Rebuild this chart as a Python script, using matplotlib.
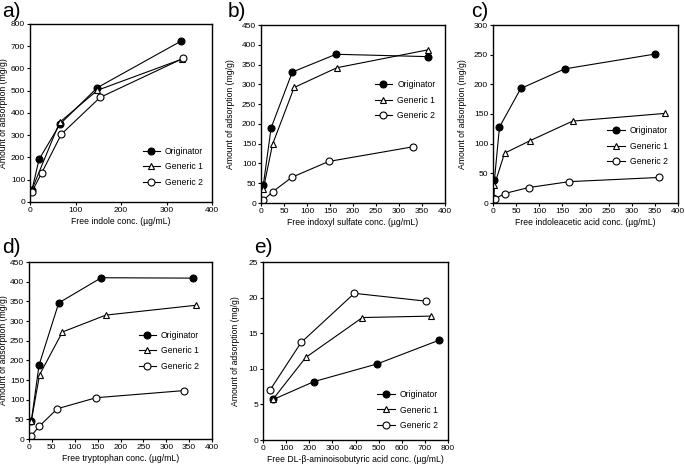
import numpy as np
import matplotlib
matplotlib.use("Agg")
import matplotlib.pyplot as plt

plt.rcParams['font.family'] = ['Liberation Sans', 'DejaVu Sans']

labels = ['Originator', 'Generic 1', 'Generic 2']

# a) indole
a_x = [[4, 20, 66, 148, 331], [4, 65, 148, 335], [4, 26, 69, 154, 337]]
a_y = [[52, 192, 350, 514, 722], [55, 358, 502, 643], [45, 132, 305, 470, 646]]

# b) indoxyl sulfate
b_x = [[5, 22, 68, 163, 363], [5, 25, 72, 165, 362], [5, 25, 67, 147, 330]]
b_y = [[45, 190, 331, 376, 370], [35, 148, 292, 342, 387], [7, 28, 65, 105, 142]]

# c) indoleacetic acid
c_x = [[1, 3, 14, 60, 155, 350], [1, 3, 25, 80, 172, 372], [0, 5, 25, 77, 165, 358]]
c_y = [[8, 38, 128, 193, 226, 251], [5, 30, 84, 105, 138, 151], [2, 7, 16, 26, 36, 43]]

# d) tryptophan
d_x = [[5, 22, 65, 158, 358], [5, 23, 73, 168, 365], [5, 22, 62, 147, 338]]
d_y = [[45, 188, 346, 410, 409], [45, 163, 272, 315, 340], [8, 32, 77, 105, 123]]

# e) DL-beta-aminoisobutyric acid
e_x = [[45, 220, 495, 760], [45, 185, 430, 725], [30, 165, 395, 705]]
e_y = [[5.7, 8.2, 10.7, 14.0], [5.8, 11.6, 17.2, 17.4], [7.0, 13.7, 20.6, 19.5]]

# letter, x data, y data, axes box (px), xlim/step, ylim/step, xlabel, legend anchor, letter pos (px), ylabel x
panels = [
    ('a)', a_x, a_y, (30, 212, 24, 202), (0, 400, 100), (0, 800, 100), 'Free indole conc. (\u00b5g/mL)', (0.60, 0.33), (2, 21), -0.12),
    ('b)', b_x, b_y, (261, 445, 25, 203), (0, 400, 50), (0, 450, 50), 'Free indoxyl sulfate conc. (\u00b5g/mL)', (0.60, 0.71), (228, 21), -0.14),
    ('c)', c_x, c_y, (493, 678, 25, 203), (0, 400, 50), (0, 300, 50), 'Free indoleacetic acid conc. (\u00b5g/mL)', (0.60, 0.45), (471, 21), -0.14),
    ('d)', d_x, d_y, (29, 212, 262, 439), (0, 400, 50), (0, 450, 50), 'Free tryptophan conc. (\u00b5g/mL)', (0.58, 0.63), (2, 257), -0.115),
    ('e)', e_x, e_y, (263, 448, 262, 440), (0, 800, 100), (0, 25, 5), 'Free DL-\u03b2-aminoisobutyric acid conc. (\u00b5g/mL)', (0.60, 0.30), (254, 257), -0.125),
]

markers = [dict(marker='o', mfc='black', mec='black'),
           dict(marker='^', mfc='white', mec='black'),
           dict(marker='o', mfc='white', mec='black')]

W, H = 685, 465
fig = plt.figure(figsize=(6.85, 4.65), dpi=100)

for letter, xs, ys, box, xl, yl, xlabel, legpos, lpos, ylx in panels:
    l, r, t, b = box
    ax = fig.add_axes([l / W, 1 - b / H, (r - l) / W, (b - t) / H])
    for i in range(3):
        ax.plot(xs[i], ys[i], color='black', lw=0.8, ms=5, mew=0.8,
                label=labels[i], **markers[i])
    ax.set_xlim(xl[0], xl[1])
    ax.set_ylim(yl[0], yl[1])
    ax.set_xticks(np.arange(xl[0], xl[1] + 1, xl[2]))
    ax.set_yticks(np.arange(yl[0], yl[1] + 0.01, yl[2]))
    ax.tick_params(labelsize=6, length=2, width=0.8, pad=1.5)
    for s in ax.spines.values():
        s.set_linewidth(1.0)
    ax.set_xlabel(xlabel, fontsize=6.2, labelpad=2)
    ax.set_ylabel('Amount of adsorption (mg/g)', fontsize=6.2)
    ax.yaxis.set_label_coords(ylx, 0.5)
    ax.legend(loc='upper left', bbox_to_anchor=legpos, frameon=False,
              fontsize=6.2, handlelength=2.0, labelspacing=0.75,
              handletextpad=0.6, borderaxespad=0)
    fig.text(lpos[0] / W, 1 - lpos[1] / H, letter, fontsize=15,
             ha='left', va='bottom')

fig.savefig('out.png', dpi=100)
